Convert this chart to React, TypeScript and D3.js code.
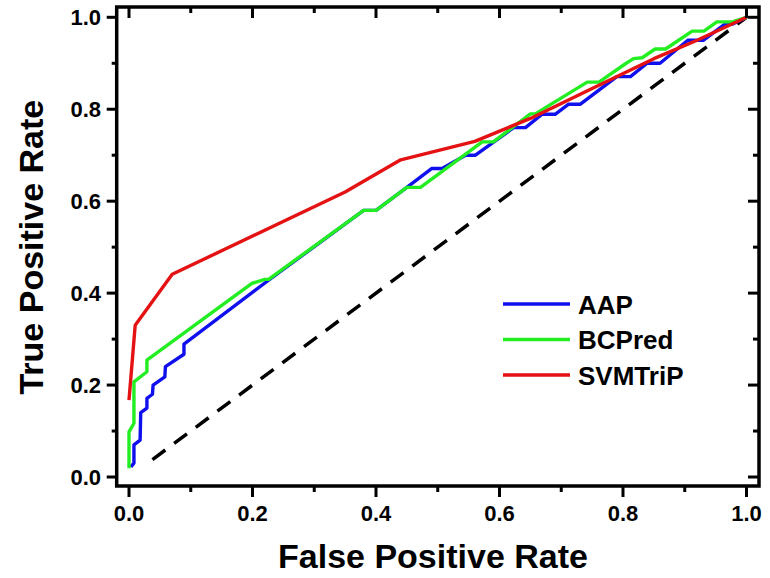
import React from "react";
import * as d3 from "d3";

const aapFpr = [0.003, 0.008, 0.008, 0.018, 0.019, 0.029, 0.029, 0.038, 0.039, 0.058, 0.059, 0.089, 0.089, 0.226, 0.38, 0.40, 0.45, 0.49, 0.507, 0.545, 0.561, 0.623, 0.642, 0.669, 0.69, 0.712, 0.731, 0.79, 0.812, 0.839, 0.86, 0.905, 0.93, 0.965, 0.977, 1.0];
const aapTpr = [0.022, 0.03, 0.07, 0.08, 0.14, 0.15, 0.171, 0.18, 0.20, 0.218, 0.24, 0.267, 0.289, 0.428, 0.58, 0.58, 0.63, 0.671, 0.671, 0.70, 0.70, 0.76, 0.76, 0.789, 0.789, 0.811, 0.811, 0.871, 0.871, 0.90, 0.90, 0.95, 0.95, 0.985, 0.985, 1.0];

const bcpFpr = [0.0, 0.0, 0.008, 0.008, 0.029, 0.029, 0.199, 0.22, 0.226, 0.38, 0.40, 0.45, 0.472, 0.572, 0.59, 0.65, 0.658, 0.742, 0.761, 0.804, 0.817, 0.831, 0.852, 0.869, 0.912, 0.931, 0.952, 0.977, 1.0];
const bcpTpr = [0.019, 0.098, 0.117, 0.207, 0.229, 0.254, 0.421, 0.43, 0.43, 0.58, 0.58, 0.63, 0.63, 0.729, 0.729, 0.79, 0.79, 0.859, 0.859, 0.899, 0.91, 0.912, 0.931, 0.931, 0.97, 0.97, 0.99, 0.99, 1.0];

const svmFpr = [0.0, 0.01, 0.07, 0.35, 0.44, 0.56, 0.65, 0.75, 0.85, 0.92, 1.0];
const svmTpr = [0.167, 0.33, 0.441, 0.62, 0.69, 0.73, 0.78, 0.845, 0.91, 0.95, 1.0];

const diagX = [0.038, 1.0];
const diagY = [0.038, 1.0];

const seriesNames = ["AAP", "BCPred", "SVMTriP"];
const seriesColors = ["#1010ee", "#22ee22", "#e41212"];

const majorTicks = [0, 0.2, 0.4, 0.6, 0.8, 1.0];
const minorTicks = [0.1, 0.3, 0.5, 0.7, 0.9];

const xTitle = "False Positive Rate";
const yTitle = "True Positive Rate";

export default function App() {
  const W = 770, H = 578;
  const frame = { left: 116.7, right: 759, top: 7, bottom: 486 };
  const x = d3.scaleLinear().domain([0, 1]).range([129, 746.5]);
  const y = d3.scaleLinear().domain([0, 1]).range([477, 17.3]);
  const line = d3.line<[number, number]>().x(d => x(d[0])).y(d => y(d[1]));
  const zip = (a: number[], b: number[]) => a.map((v, i) => [v, b[i]] as [number, number]);
  const series = [zip(aapFpr, aapTpr), zip(bcpFpr, bcpTpr), zip(svmFpr, svmTpr)];
  const font = "Arial, 'Liberation Sans', sans-serif";
  const fmt = d3.format(".1f");

  return (
    <svg width={W} height={H} style={{ position: "absolute", left: 0, top: 0, background: "#fff" }}>
      <rect x={0} y={0} width={W} height={H} fill="#fff" />
      {/* diagonal */}
      <path d={line(zip(diagX, diagY)) || ""} fill="none" stroke="#000" strokeWidth={3.5} strokeDasharray="16,11" />
      {series.map((s, i) => (
        <path key={i} d={line(s) || ""} fill="none" stroke={seriesColors[i]} strokeWidth={3.4} strokeLinejoin="round" />
      ))}
      {/* frame */}
      <rect x={frame.left} y={frame.top} width={frame.right - frame.left} height={frame.bottom - frame.top} fill="none" stroke="#000" strokeWidth={3.5} />
      {/* bottom ticks (outside) and top ticks (inside) */}
      {majorTicks.map(t => (
        <g key={"xm" + t}>
          <line x1={x(t)} x2={x(t)} y1={frame.bottom} y2={frame.bottom + 11} stroke="#000" strokeWidth={3} />
          <line x1={x(t)} x2={x(t)} y1={frame.top} y2={frame.top + 11} stroke="#000" strokeWidth={3} />
          <text x={x(t)} y={521} textAnchor="middle" fontFamily={font} fontWeight="bold" fontSize={22}>{fmt(t)}</text>
        </g>
      ))}
      {minorTicks.map(t => (
        <g key={"xn" + t}>
          <line x1={x(t)} x2={x(t)} y1={frame.bottom} y2={frame.bottom + 6} stroke="#000" strokeWidth={3} />
          <line x1={x(t)} x2={x(t)} y1={frame.top} y2={frame.top + 6} stroke="#000" strokeWidth={3} />
        </g>
      ))}
      {/* left ticks (outside) and right ticks (inside) */}
      {majorTicks.map(t => (
        <g key={"ym" + t}>
          <line x1={frame.left - 10} x2={frame.left} y1={y(t)} y2={y(t)} stroke="#000" strokeWidth={3} />
          <line x1={frame.right - 11} x2={frame.right} y1={y(t)} y2={y(t)} stroke="#000" strokeWidth={3} />
          <text x={101} y={y(t) + 8} textAnchor="end" fontFamily={font} fontWeight="bold" fontSize={22}>{fmt(t)}</text>
        </g>
      ))}
      {minorTicks.map(t => (
        <g key={"yn" + t}>
          <line x1={frame.left - 5} x2={frame.left} y1={y(t)} y2={y(t)} stroke="#000" strokeWidth={3} />
          <line x1={frame.right - 6} x2={frame.right} y1={y(t)} y2={y(t)} stroke="#000" strokeWidth={3} />
        </g>
      ))}
      {/* axis titles */}
      <text x={433} y={568} textAnchor="middle" fontFamily={font} fontWeight="bold" fontSize={34}>{xTitle}</text>
      <text transform={`translate(43,${(y(0) + y(1)) / 2}) rotate(-90)`} textAnchor="middle" fontFamily={font} fontWeight="bold" fontSize={34}>{yTitle}</text>
      {/* legend */}
      {seriesNames.map((n, i) => (
        <g key={n}>
          <line x1={503} x2={570} y1={304 + i * 35.5} y2={304 + i * 35.5} stroke={seriesColors[i]} strokeWidth={3.4} />
          <text x={578} y={304 + i * 35.5 + 9.5} fontFamily={font} fontWeight="bold" fontSize={26}>{n}</text>
        </g>
      ))}
    </svg>
  );
}
